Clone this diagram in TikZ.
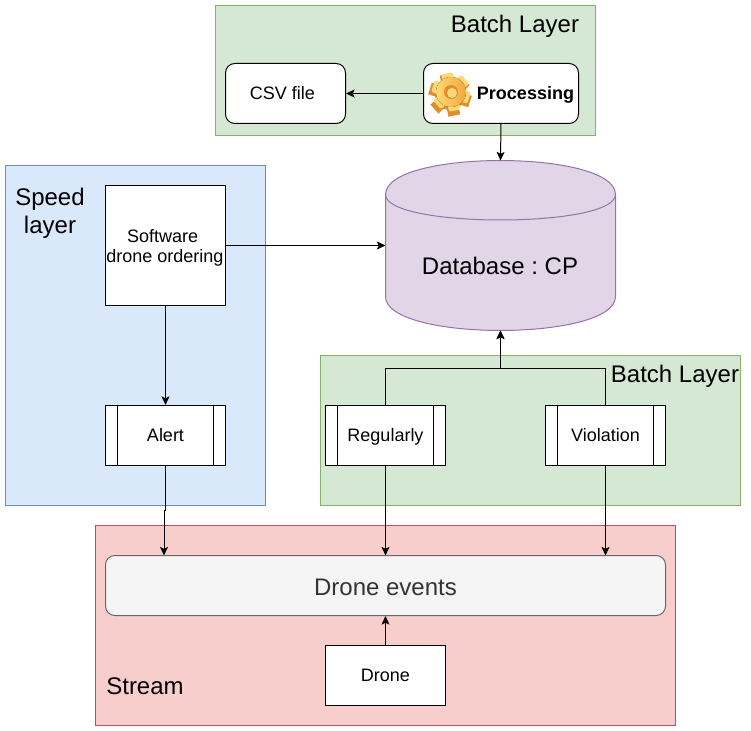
\documentclass[tikz,border=0pt]{standalone}
\usepackage{fontspec}
\setmainfont{Liberation Sans}
\usetikzlibrary{arrows.meta}
\tikzset{
	box/.style={draw=black,fill=white,minimum width=90pt,minimum height=45pt,inner sep=0pt,text height=9.8pt,text depth=1.4pt,font=\fontsize{13.5}{15}\selectfont},
	roundbox/.style={box,rounded corners=7pt},
	procbox/.style={box,path picture={
		\draw (path picture bounding box.north west) ++(9pt,0) -- ++(0,-45pt);
		\draw (path picture bounding box.north east) ++(-9pt,0) -- ++(0,-45pt);
	}},
	biglabel/.style={font=\fontsize{18}{21}\selectfont,align=center,inner sep=0pt},
	smalllabel/.style={font=\fontsize{13.5}{15}\selectfont,align=center,inner sep=0pt},
	link/.style={-{Stealth[length=6.5pt,width=6pt,inset=1.5pt]},line width=0.75pt}
}
\definecolor{batchfill}{HTML}{D5E8D4}
\definecolor{batchline}{HTML}{82B366}
\definecolor{speedfill}{HTML}{DAE8FC}
\definecolor{speedline}{HTML}{6C8EBF}
\definecolor{streamfill}{HTML}{F8CECC}
\definecolor{streamline}{HTML}{B85450}
\definecolor{dbfill}{HTML}{E1D5E7}
\definecolor{dbline}{HTML}{9673A6}
\definecolor{eventfill}{HTML}{F5F5F5}
\definecolor{eventline}{HTML}{666666}
\definecolor{gearlight}{HTML}{FFD874}
\definecolor{geardark}{HTML}{F0A83C}
\definecolor{gearshade}{HTML}{DE8E2A}
\begin{document}
\begin{tikzpicture}[x=0.75pt,y=-0.75pt,line width=0.75pt]
	\useasboundingbox (0,0) rectangle (751,731);
	% layers
	\draw [draw=batchline,fill=batchfill] (215.5,5.5) rectangle (595.5,135.5);
	\draw [draw=speedline,fill=speedfill] (5.5,165.5) rectangle (265.5,505.5);
	\draw [draw=batchline,fill=batchfill] (320.5,355.5) rectangle (740.5,505.5);
	\draw [draw=streamline,fill=streamfill] (95.5,525.5) rectangle (675.5,725.5);
	\node [biglabel] (batchtop) at (515,26) {Batch Layer};
	\node [biglabel] (speed) at (50,213) {Speed\\layer};
	\node [biglabel] (batchlow) at (675,376) {Batch Layer};
	\node [biglabel] (stream) at (145,686) {Stream};
	% top row
	\node [roundbox] (csv) at (285.5,93.5) {};
	\node [smalllabel] (csvtext) at (282.5,93) {CSV file};
	\node [roundbox,minimum width=116.25pt] (processing) at (501,93.5) {};
	\node [smalllabel,font=\fontsize{13.5}{15}\selectfont\bfseries] (proctext) at (525.5,95) {Processing};
	% gear
	\foreach \a in {0,60,...,300}
		\fill [gearshade,rotate around={\a+12:(450,95)}] (444,74) rectangle (456,84);
	\fill [gearshade] (450,95) circle (15);
	\foreach \a in {0,60,...,300}
		\fill [gearlight,rounded corners=1.5pt,rotate around={\a+12:(451,92)}] (445,73) rectangle (457,83);
	\fill [left color=gearlight,right color=geardark] (451,92) circle (15);
	\fill [gearshade] (451,92) circle (7);
	\fill [gearlight] (452,93) circle (5);
	% database
	\draw [draw=dbline,fill=dbfill] (385.5,194.5) .. controls (385.5,149.2) and (615.5,149.2) .. (615.5,194.5)
		-- (615.5,296.5) .. controls (615.5,341.8) and (385.5,341.8) .. (385.5,296.5) -- cycle;
	\draw [draw=dbline] (385.5,194.5) .. controls (385.5,228.5) and (615.5,228.5) .. (615.5,194.5);
	\node [biglabel] (db) at (500,266) {Database :\ CP};
	% speed layer
	\node [box,minimum height=90pt] (software) at (165.5,245.5) {};
	\node [smalllabel] (softtext) at (165,248) {Software\kern3.5pt\\drone ordering};
	\node [procbox] (alert) at (165.5,435.5) {Alert};
	% batch layer
	\node [procbox] (regularly) at (385.5,435.5) {Regularly};
	\node [procbox] (violation) at (605.5,435.5) {Violation};
	% stream
	\node [roundbox,draw=eventline,fill=eventfill,text=black!80,minimum width=420pt,text height=14.5pt,text depth=0pt,font=\fontsize{18}{21}\selectfont] (events) at (385.5,585.5) {Drone events};
	\node [box] (drone) at (385.5,675.5) {Drone};
	\coordinate (alertin) at (164,555.5);
	\coordinate (regin) at (385.5,555.5);
	\coordinate (violin) at (605.5,555.5);
	\coordinate (dbin) at (500.5,330.5);
	\coordinate (softout) at (385.5,245.5);
	\coordinate (dbtop) at (500.5,160.5);
	% links
	\draw [link] (processing.west) -- (csv.east);
	\draw [link] (processing.south) -- (dbtop);
	\draw [link] (software.east) -- (softout);
	\draw [link] (software.south) -- (alert.north);
	\draw [link] (alert.south) -- (165.5,510.5) -- (164,510.5) -- (alertin);
	\draw [link] (regularly.north) -- (385.5,368.5) -- (500.5,368.5) -- (dbin);
	\draw [link] (violation.north) -- (605.5,368.5) -- (500.5,368.5) -- (dbin);
	\draw [link] (regularly.south) -- (regin);
	\draw [link] (violation.south) -- (violin);
	\draw [link] (drone.north) -- (events.south);
\end{tikzpicture}
\end{document}
